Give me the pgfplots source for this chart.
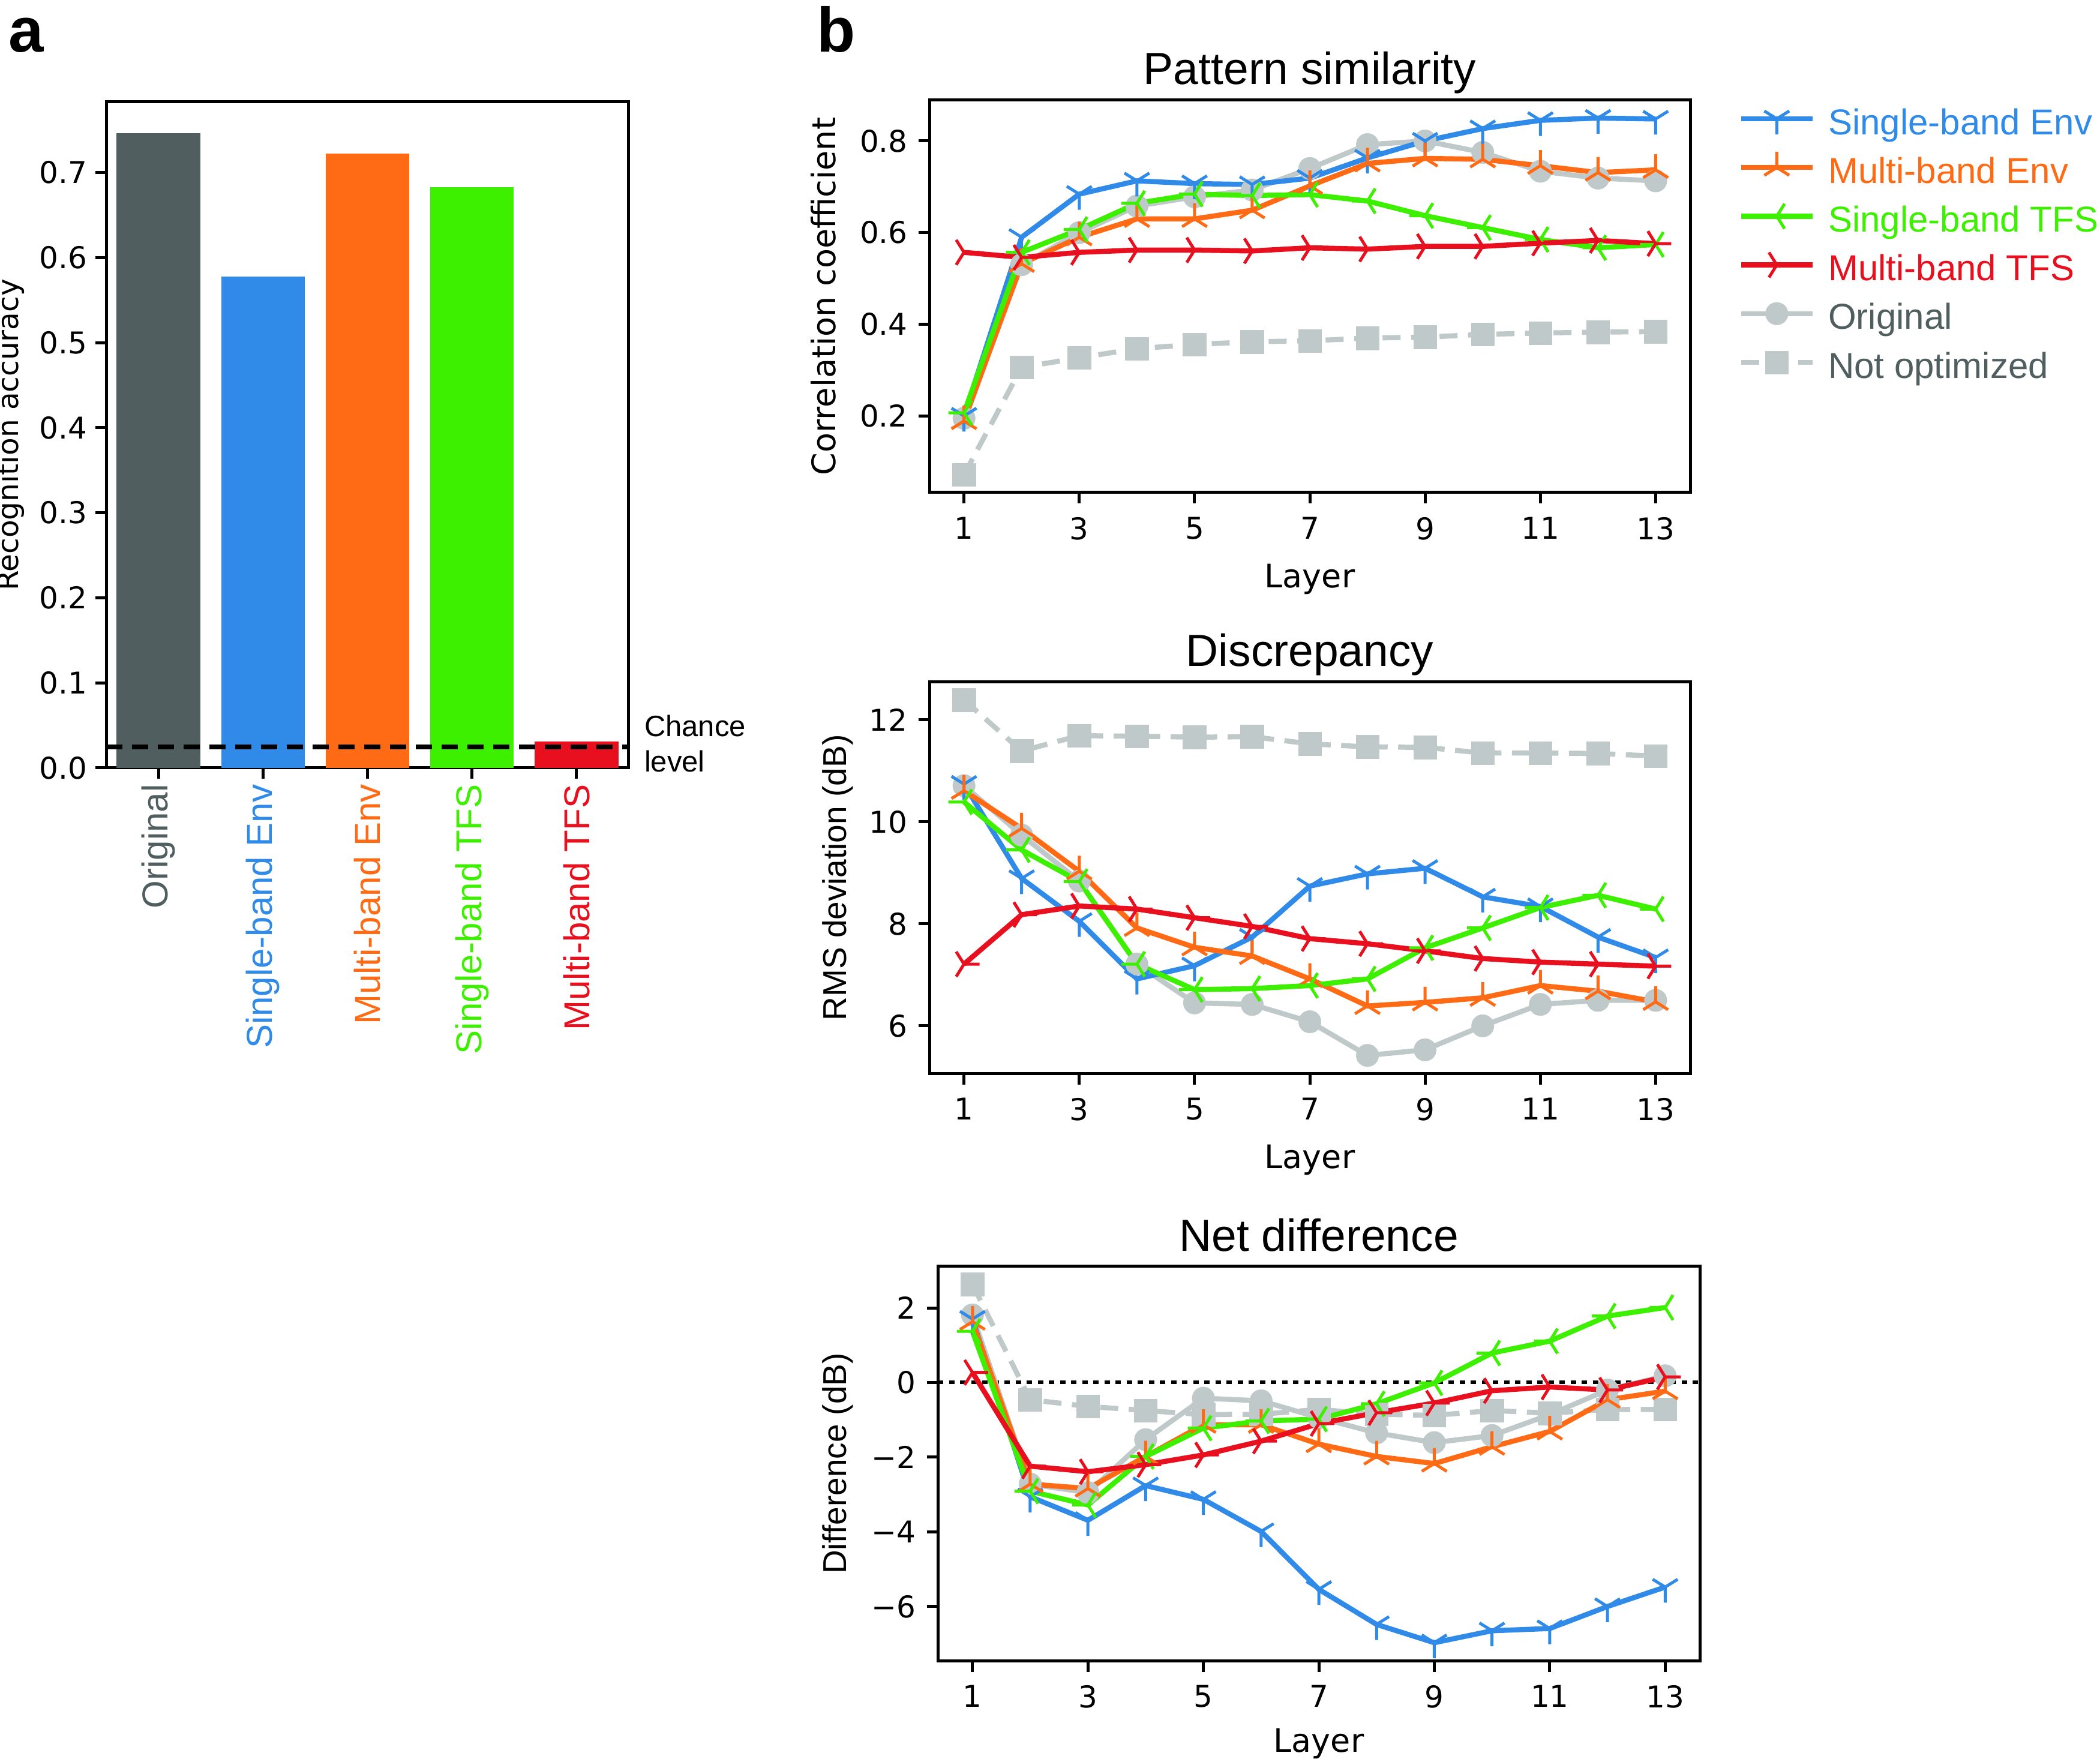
\documentclass[border=0pt]{standalone}
\usepackage{fontspec}
\setmainfont{DejaVu Sans}
\newfontfamily\arialf{Liberation Sans}
\usepackage{pgfplots}
\usepackage{pgfplotstable}
\pgfplotsset{compat=1.18}

\definecolor{cdark}{HTML}{505E60}
\definecolor{clight}{HTML}{C0C9C9}
\definecolor{cblue}{HTML}{308BE8}
\definecolor{corange}{HTML}{FF6A14}
\definecolor{cgreen}{HTML}{3CF000}
\definecolor{cred}{HTML}{E8101E}

\pgfdeclareplotmark{tridown}{%
 \pgfpathmoveto{\pgfpointorigin}\pgfpathlineto{\pgfpoint{0pt}{-\pgfplotmarksize}}%
 \pgfpathmoveto{\pgfpointorigin}\pgfpathlineto{\pgfpoint{0.8\pgfplotmarksize}{0.5\pgfplotmarksize}}%
 \pgfpathmoveto{\pgfpointorigin}\pgfpathlineto{\pgfpoint{-0.8\pgfplotmarksize}{0.5\pgfplotmarksize}}%
 \pgfusepathqstroke}
\pgfdeclareplotmark{triup}{%
 \pgfpathmoveto{\pgfpointorigin}\pgfpathlineto{\pgfpoint{0pt}{\pgfplotmarksize}}%
 \pgfpathmoveto{\pgfpointorigin}\pgfpathlineto{\pgfpoint{0.8\pgfplotmarksize}{-0.5\pgfplotmarksize}}%
 \pgfpathmoveto{\pgfpointorigin}\pgfpathlineto{\pgfpoint{-0.8\pgfplotmarksize}{-0.5\pgfplotmarksize}}%
 \pgfusepathqstroke}
\pgfdeclareplotmark{trileft}{%
 \pgfpathmoveto{\pgfpointorigin}\pgfpathlineto{\pgfpoint{-\pgfplotmarksize}{0pt}}%
 \pgfpathmoveto{\pgfpointorigin}\pgfpathlineto{\pgfpoint{0.5\pgfplotmarksize}{0.8\pgfplotmarksize}}%
 \pgfpathmoveto{\pgfpointorigin}\pgfpathlineto{\pgfpoint{0.5\pgfplotmarksize}{-0.8\pgfplotmarksize}}%
 \pgfusepathqstroke}
\pgfdeclareplotmark{triright}{%
 \pgfpathmoveto{\pgfpointorigin}\pgfpathlineto{\pgfpoint{\pgfplotmarksize}{0pt}}%
 \pgfpathmoveto{\pgfpointorigin}\pgfpathlineto{\pgfpoint{-0.5\pgfplotmarksize}{0.8\pgfplotmarksize}}%
 \pgfpathmoveto{\pgfpointorigin}\pgfpathlineto{\pgfpoint{-0.5\pgfplotmarksize}{-0.8\pgfplotmarksize}}%
 \pgfusepathqstroke}

\pgfplotsset{
 common/.style={scale only axis, anchor=south west, tick align=outside,
   xtick pos=left, ytick pos=left, major tick length=3.7pt,
   tick style={black, line width=1pt},
   axis line style={black, line width=1pt},
   ticklabel style={font=\fontsize{10}{12}\selectfont, inner sep=0pt},
   xticklabel style={anchor=north}, yticklabel style={anchor=east}},
 panelb/.style={common, width=253.6pt, xmin=0.4, xmax=13.6,
   xtick={1,3,5,7,9,11,13}, xticklabels={1,3,5,7,9,11,13},
   xticklabel shift=4.4pt, yticklabel shift=3.4pt},
 sbe/.style={cblue, line width=1.7pt, line join=round, mark=tridown, mark size=5.2pt, mark options={solid, line width=1pt}},
 mbe/.style={corange, line width=1.7pt, line join=round, mark=triup, mark size=5.2pt, mark options={solid, line width=1pt}},
 sbt/.style={cgreen, line width=1.7pt, line join=round, mark=trileft, mark size=5.2pt, mark options={solid, line width=1pt}},
 mbt/.style={cred, line width=1.7pt, line join=round, mark=triright, mark size=5.2pt, mark options={solid, line width=1pt}},
 orig/.style={clight, line width=1.7pt, line join=round, mark=*, mark size=3.75pt, mark options={solid, fill=clight, draw=clight, line width=0.1pt}},
 nopt/.style={clight, line width=1.7pt, line join=round, dash pattern=on 6pt off 3.5pt, mark=square*, mark size=3.85pt, mark options={solid, fill=clight, draw=clight, line width=0.1pt}},
}

\pgfplotstableread{
L sbe mbe sbt mbt orig nopt
1 0.200 0.189 0.207 0.557 0.195 0.072
2 0.590 0.532 0.557 0.546 0.530 0.306
3 0.684 0.590 0.607 0.557 0.600 0.327
4 0.713 0.630 0.664 0.562 0.658 0.347
5 0.707 0.630 0.684 0.562 0.678 0.356
6 0.705 0.649 0.681 0.560 0.693 0.362
7 0.719 0.702 0.683 0.567 0.740 0.364
8 0.763 0.751 0.669 0.564 0.792 0.370
9 0.800 0.762 0.637 0.570 0.800 0.372
10 0.827 0.760 0.611 0.570 0.775 0.378
11 0.845 0.746 0.585 0.577 0.734 0.381
12 0.850 0.731 0.567 0.583 0.719 0.383
13 0.848 0.737 0.574 0.576 0.713 0.384
}\tabSim

\pgfplotstableread{
L sbe mbe sbt mbt orig nopt
1 10.74 10.61 10.39 7.21 10.71 12.39
2 8.89 9.87 9.45 8.18 9.74 11.39
3 8.05 9.03 8.83 8.35 8.84 11.69
4 6.92 7.92 7.21 8.29 7.21 11.68
5 7.18 7.54 6.71 8.12 6.45 11.66
6 7.74 7.37 6.73 7.95 6.42 11.67
7 8.74 6.92 6.79 7.71 6.08 11.53
8 8.98 6.39 6.92 7.61 5.42 11.47
9 9.09 6.46 7.53 7.47 5.53 11.46
10 8.53 6.55 7.92 7.32 6.00 11.35
11 8.34 6.79 8.32 7.25 6.42 11.35
12 7.74 6.68 8.56 7.21 6.50 11.34
13 7.34 6.47 8.29 7.17 6.50 11.29
}\tabDis

\pgfplotstableread{
L sbe mbe sbt mbt orig nopt
1 1.70 1.63 1.37 0.27 1.81 2.63
2 -3.06 -2.72 -2.91 -2.24 -2.72 -0.46
3 -3.69 -2.84 -3.28 -2.39 -2.95 -0.64
4 -2.76 -1.98 -1.98 -2.20 -1.53 -0.75
5 -3.13 -1.13 -1.22 -1.94 -0.42 -0.86
6 -3.99 -1.13 -1.03 -1.57 -0.49 -0.85
7 -5.54 -1.65 -0.98 -1.10 -0.94 -0.72
8 -6.48 -1.98 -0.57 -0.81 -1.35 -0.85
9 -6.97 -2.17 -0.01 -0.55 -1.61 -0.88
10 -6.65 -1.72 0.79 -0.22 -1.42 -0.75
11 -6.59 -1.31 1.11 -0.12 -0.86 -0.82
12 -6.00 -0.46 1.78 -0.20 -0.20 -0.72
13 -5.48 -0.23 2.01 0.15 0.18 -0.72
}\tabNet

\begin{document}
\begin{tikzpicture}
\useasboundingbox (0,0) rectangle (700pt,586.2pt);

% ---------- panel a ----------
\begin{axis}[common, at={(35.4pt,330.2pt)}, width=174.2pt, height=222pt,
  xmin=-0.5, xmax=4.5, ymin=0, ymax=0.783,
  xtick={0,1,2,3,4},
  xticklabels={\textcolor{cdark}{Original},\textcolor{cblue}{Single-band Env},\textcolor{corange}{Multi-band Env},\textcolor{cgreen}{Single-band TFS},\textcolor{cred}{Multi-band TFS}},
  xticklabel style={anchor=east, rotate=90, font=\arialf\fontsize{12}{14}\selectfont},
  xticklabel shift=1.6pt,
  ytick={0,0.1,0.2,0.3,0.4,0.5,0.6,0.7},
  yticklabels={0.0,0.1,0.2,0.3,0.4,0.5,0.6,0.7},
  yticklabel shift=2.4pt]
\addplot[ybar, bar width=0.8, bar shift=0pt, fill=cdark, draw=none] coordinates {(0,0.746)};
\addplot[ybar, bar width=0.8, bar shift=0pt, fill=cblue, draw=none] coordinates {(1,0.578)};
\addplot[ybar, bar width=0.8, bar shift=0pt, fill=corange, draw=none] coordinates {(2,0.722)};
\addplot[ybar, bar width=0.8, bar shift=0pt, fill=cgreen, draw=none] coordinates {(3,0.683)};
\addplot[ybar, bar width=0.8, bar shift=0pt, fill=cred, draw=none] coordinates {(4,0.031)};
\addplot[black, line width=1.6pt, dash pattern=on 5.3pt off 3.3pt] coordinates {(-0.5,0.025) (4.5,0.025)};
\end{axis}

% ---------- panel b top ----------
\begin{axis}[panelb, at={(309.8pt,422pt)}, height=130.8pt,
  ymin=0.033, ymax=0.889, ytick={0.2,0.4,0.6,0.8}, yticklabels={0.2,0.4,0.6,0.8},
  legend style={draw=none, fill=none, inner sep=0pt, outer sep=0pt,
    at={(1.0635,1.0076)}, anchor=north west, row sep=1.84pt, column sep=4.4pt,
    nodes={inner sep=0pt, text height=12.4pt, text depth=2pt, font=\arialf\fontsize{12}{14}\selectfont}},
  legend cell align=left,
  legend image code/.code={\draw[mark repeat=2, mark phase=2, #1] plot coordinates {(0pt,0pt) (11.9pt,0pt) (23.8pt,0pt)};}]
\addlegendimage{sbe}\addlegendentry{\textcolor{cblue}{Single-band Env}}
\addlegendimage{mbe}\addlegendentry{\textcolor{corange}{Multi-band Env}}
\addlegendimage{sbt}\addlegendentry{\textcolor{cgreen}{Single-band TFS}}
\addlegendimage{mbt}\addlegendentry{\textcolor{cred}{Multi-band TFS}}
\addlegendimage{orig}\addlegendentry{\textcolor{cdark}{Original}}
\addlegendimage{nopt}\addlegendentry{\textcolor{cdark}{Not optimized}}
\addplot[nopt, forget plot] table[x=L, y=nopt] {\tabSim};
\addplot[orig, forget plot] table[x=L, y=orig] {\tabSim};
\addplot[sbe, forget plot] table[x=L, y=sbe] {\tabSim};
\addplot[mbe, forget plot] table[x=L, y=mbe] {\tabSim};
\addplot[sbt, forget plot] table[x=L, y=sbt] {\tabSim};
\addplot[mbt, forget plot] table[x=L, y=mbt] {\tabSim};
\end{axis}

% ---------- panel b middle ----------
\begin{axis}[panelb, at={(309.8pt,228.4pt)}, height=130.4pt,
  ymin=5.07, ymax=12.74, ytick={6,8,10,12}, yticklabels={6,8,10,12}]
\addplot[nopt] table[x=L, y=nopt] {\tabDis};
\addplot[orig] table[x=L, y=orig] {\tabDis};
\addplot[sbe] table[x=L, y=sbe] {\tabDis};
\addplot[mbe] table[x=L, y=mbe] {\tabDis};
\addplot[sbt] table[x=L, y=sbt] {\tabDis};
\addplot[mbt] table[x=L, y=mbt] {\tabDis};
\end{axis}

% ---------- panel b bottom ----------
\begin{axis}[panelb, at={(312.6pt,32.6pt)}, width=254pt, height=131.4pt,
  ymin=-7.45, ymax=3.11, ytick={-6,-4,-2,0,2}, yticklabels={−6,−4,−2,0,2}]
\addplot[black, line width=1.2pt, dash pattern=on 1.8pt off 1.9pt] coordinates {(0.4,0) (13.6,0)};
\addplot[nopt] table[x=L, y=nopt] {\tabNet};
\addplot[orig] table[x=L, y=orig] {\tabNet};
\addplot[sbe] table[x=L, y=sbe] {\tabNet};
\addplot[mbe] table[x=L, y=mbe] {\tabNet};
\addplot[sbt] table[x=L, y=sbt] {\tabNet};
\addplot[mbt] table[x=L, y=mbt] {\tabNet};
\end{axis}

% ---------- texts ----------
\node[anchor=base west, inner sep=0pt] at (2.6pt,568.8pt) {\arialf\bfseries\fontsize{21}{24}\selectfont a};
\node[anchor=base west, inner sep=0pt] at (272pt,568.8pt) {\arialf\bfseries\fontsize{21}{24}\selectfont b};
\node[rotate=90, anchor=south, inner sep=0pt] at (8.4pt,441.2pt) {\fontsize{9.7}{11}\selectfont Recognition accuracy};
\node[anchor=base west, inner sep=0pt] at (214.6pt,340.6pt) {\arialf\fontsize{9.8}{11}\selectfont Chance};
\node[anchor=base west, inner sep=0pt] at (214.6pt,328.8pt) {\arialf\fontsize{9.8}{11}\selectfont level};

\node[anchor=base, inner sep=0pt] at (436.6pt,558pt) {\arialf\fontsize{15}{18}\selectfont Pattern similarity};
\node[anchor=base, inner sep=0pt] at (436.6pt,364pt) {\arialf\fontsize{15}{18}\selectfont Discrepancy};
\node[anchor=base, inner sep=0pt] at (439.6pt,169.2pt) {\arialf\fontsize{15}{18}\selectfont Net difference};

\node[rotate=90, anchor=base, inner sep=0pt] at (278.4pt,487.4pt) {\fontsize{10.8}{13}\selectfont Correlation coefficient};
\node[rotate=90, anchor=base, inner sep=0pt] at (282pt,293.6pt) {\arialf\fontsize{11}{13}\selectfont RMS deviation (dB)};
\node[rotate=90, anchor=base, inner sep=0pt] at (282pt,98.3pt) {\arialf\fontsize{11}{13}\selectfont Difference (dB)};

\node[anchor=north, inner sep=0pt] at (436.6pt,398.4pt) {\fontsize{10.8}{13}\selectfont Layer};
\node[anchor=north, inner sep=0pt] at (436.6pt,204.8pt) {\fontsize{10.8}{13}\selectfont Layer};
\node[anchor=north, inner sep=0pt] at (439.6pt,10.2pt) {\fontsize{10.8}{13}\selectfont Layer};
\end{tikzpicture}
\end{document}
